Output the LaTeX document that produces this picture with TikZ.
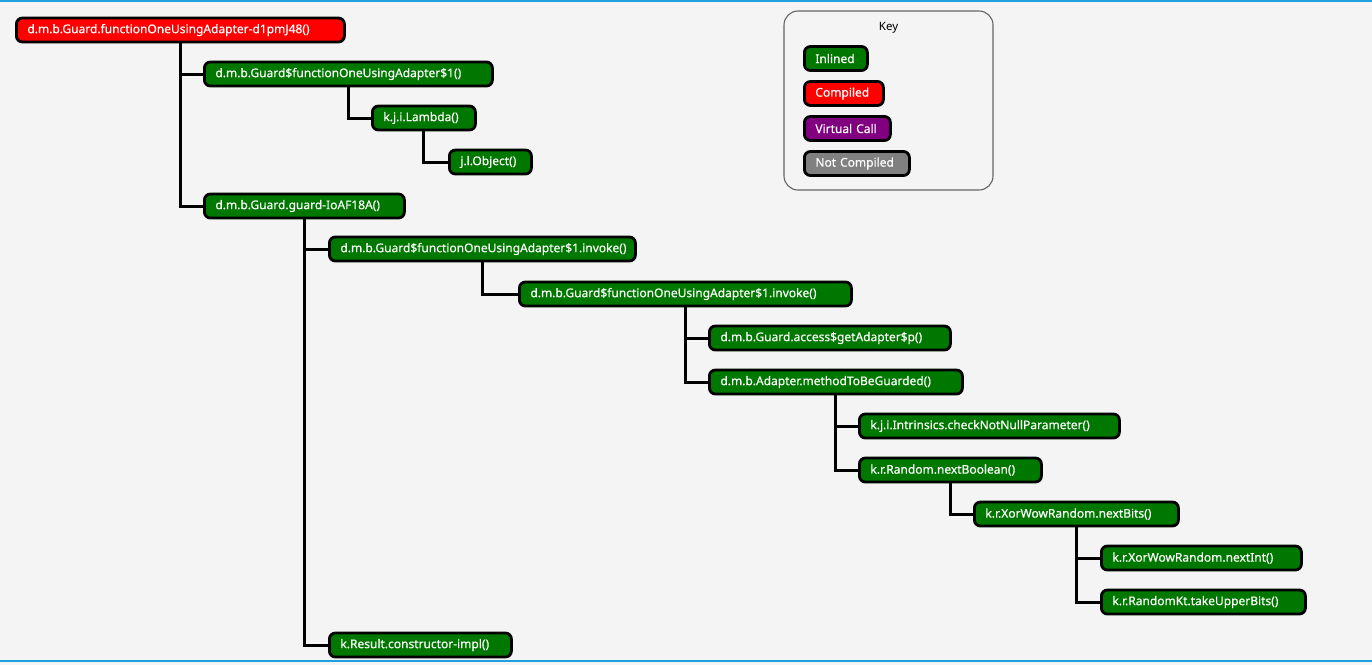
\documentclass[tikz,border=0pt]{standalone}
\usepackage{fontspec}
\setmainfont{Noto Sans}
\newfontfamily\methfont{Noto Sans}[FakeBold=0.35]
\definecolor{bg}{RGB}{244,244,244}
\definecolor{inl}{RGB}{0,120,0}
\definecolor{cmp}{RGB}{255,0,0}
\definecolor{vcall}{RGB}{128,0,128}
\definecolor{ncmp}{RGB}{128,128,128}
\definecolor{edge}{RGB}{30,160,220}
\definecolor{keyborder}{RGB}{100,100,100}
\tikzset{
  meth/.style={draw=black, line width=2.8pt, rounded corners=6pt, text=white,
    font=\methfont\fontsize{12}{14}\selectfont, minimum height=24pt, inner ysep=0pt,
    inner xsep=11pt, anchor=west, align=left},
  inlined/.style={meth, fill=inl},
  compiled/.style={meth, fill=cmp},
  virt/.style={meth, fill=vcall},
  notcomp/.style={meth, fill=ncmp},
  conn/.style={draw=black, line width=3pt},
}
\newcommand{\mnode}[6]{\node[#1, text width=#4pt-22pt] (#2) at (#3,#5) {#6};}
\begin{document}
\begin{tikzpicture}[x=1pt,y=-1pt]
\useasboundingbox[fill=bg] (0,0) rectangle (1372,665);
\draw[edge, line width=1.2pt] (0,1) -- (1372,1);
\draw[edge, line width=1.2pt] (0,661) -- (1372,661);
% key
\draw[keyborder, line width=1.1pt, rounded corners=14pt] (784,11) rectangle (993,190);
\node[font=\fontsize{11.5}{13}\selectfont] (keytitle) at (888.5,28) {Key};
\mnode{inlined}{k1}{803}{63}{58.5}{Inlined}
\mnode{compiled}{k2}{803}{79}{93.5}{Compiled}
\mnode{virt}{k3}{803}{86}{128.5}{Virtual Call}
\mnode{notcomp}{k4}{803}{105}{163.5}{Not Compiled}
% tree
\mnode{compiled}{n1}{15}{328}{30}{d.m.b.Guard.functionOneUsingAdapter-d1pmJ48()}
\mnode{inlined}{n2}{203}{288}{74}{d.m.b.Guard\$functionOneUsingAdapter\$1()}
\mnode{inlined}{n3}{371}{103}{118}{k.j.i.Lambda()}
\mnode{inlined}{n4}{448}{82}{162}{j.l.Object()}
\mnode{inlined}{n5}{203}{200}{206}{d.m.b.Guard.guard-IoAF18A()}
\mnode{inlined}{n6}{328}{306}{249}{d.m.b.Guard\$functionOneUsingAdapter\$1.invoke()}
\mnode{inlined}{n7}{518}{332}{294}{d.m.b.Guard\$functionOneUsingAdapter\$1.invoke()}
\mnode{inlined}{n8}{708}{241}{338}{d.m.b.Guard.access\$getAdapter\$p()}
\mnode{inlined}{n9}{708}{253}{382}{d.m.b.Adapter.methodToBeGuarded()}
\mnode{inlined}{n10}{858}{260}{426}{k.j.i.Intrinsics.checkNotNullParameter()}
\mnode{inlined}{n11}{858}{182}{470}{k.r.Random.nextBoolean()}
\mnode{inlined}{n12}{973}{204}{514}{k.r.XorWowRandom.nextBits()}
\mnode{inlined}{n13}{1100}{200}{558}{k.r.XorWowRandom.nextInt()}
\mnode{inlined}{n14}{1100}{204}{602}{k.r.RandomKt.takeUpperBits()}
\mnode{inlined}{n15}{328}{182}{645}{k.Result.constructor-impl()}
% connectors
\draw[conn] (n1.south) |- (n2.west);
\draw[conn] (n1.south) |- (n5.west);
\draw[conn] (n2.south) |- (n3.west);
\draw[conn] (n3.south) |- (n4.west);
\draw[conn] (n5.south) |- (n6.west);
\draw[conn] (n5.south) |- (n15.west);
\draw[conn] (n6.south) |- (n7.west);
\draw[conn] (n7.south) |- (n8.west);
\draw[conn] (n7.south) |- (n9.west);
\draw[conn] (n9.south) |- (n10.west);
\draw[conn] (n9.south) |- (n11.west);
\draw[conn] (n11.south) |- (n12.west);
\draw[conn] (n12.south) |- (n13.west);
\draw[conn] (n12.south) |- (n14.west);
\end{tikzpicture}
\end{document}
